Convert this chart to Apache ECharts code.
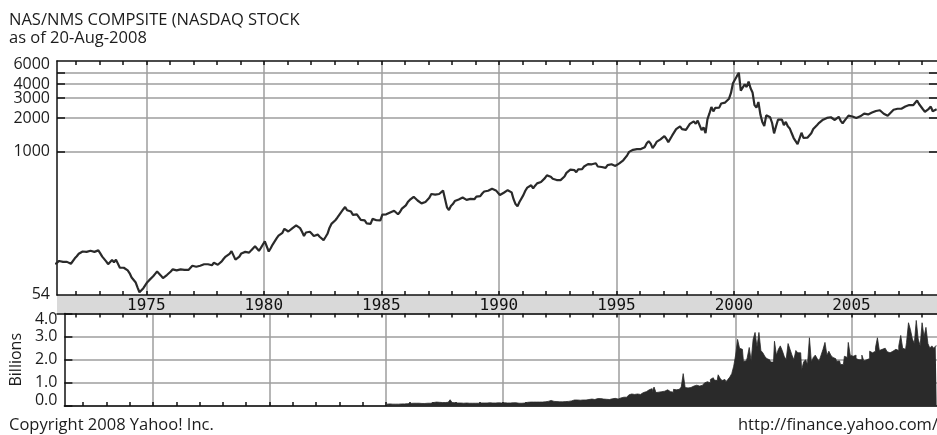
<!DOCTYPE html>
<html>
<head>
<meta charset="utf-8">
<script src="https://cdn.jsdelivr.net/npm/echarts@6/dist/echarts.min.js"></script>
<style>
  html, body { margin: 0; padding: 0; background: #fff; }
  #chart { width: 937px; height: 435px; }
</style>
</head>
<body>
<div id="chart"></div>
<script>
// NASDAQ Composite monthly closes, first value is Feb 1971
const closeStartYear = 1971;
const closeStartMonth = 2;
const closeValues = [
  101, 105, 108, 105, 106, 103, 106, 106, 102, 100, 114,            // 1971
  119, 125, 128, 131, 131, 130, 128, 133, 130, 130, 135, 134,       // 1972
  126, 118, 116, 107, 101, 100, 110, 105, 111, 110, 94, 92,         // 1973
  94, 93, 89, 84, 77, 76, 70, 63, 57, 56, 62, 60,                   // 1974
  70, 73, 76, 79, 83, 87, 84, 80, 76, 79, 81, 78,                   // 1975
  87, 91, 91, 89, 88, 91, 91, 90, 92, 90, 91, 98,                   // 1976
  97, 96, 96, 98, 97, 101, 101, 101, 101, 99, 104, 105,             // 1977
  100, 101, 107, 113, 118, 118, 125, 132, 136, 111, 114, 118,       // 1978
  126, 121, 130, 131, 128, 134, 136, 146, 146, 133, 141, 151,       // 1979
  161, 158, 131, 140, 151, 157, 171, 181, 188, 192, 208, 202,       // 1980
  197, 198, 210, 216, 223, 215, 211, 196, 180, 193, 201, 196,       // 1981
  188, 180, 175, 185, 177, 171, 165, 176, 188, 212, 230, 232,       // 1982
  248, 261, 270, 293, 309, 325, 304, 292, 296, 277, 286, 279,       // 1983
  268, 250, 251, 247, 233, 239, 230, 255, 249, 248, 242, 247,       // 1984
  278, 285, 280, 280, 291, 296, 301, 298, 280, 293, 314, 325,       // 1985
  336, 359, 375, 383, 400, 405, 371, 382, 350, 361, 360, 349,       // 1986
  392, 424, 430, 418, 417, 424, 434, 454, 444, 323, 305, 331,       // 1987
  345, 367, 374, 379, 370, 394, 387, 376, 388, 383, 372, 381,       // 1988
  401, 400, 406, 428, 446, 435, 453, 469, 472, 456, 456, 455,       // 1989
  415, 425, 435, 420, 458, 462, 438, 381, 345, 330, 360, 374,       // 1990
  414, 453, 482, 485, 506, 475, 502, 526, 527, 542, 523, 586,       // 1991
  620, 633, 603, 578, 585, 563, 581, 563, 583, 605, 652, 677,       // 1992
  696, 671, 690, 661, 700, 704, 705, 743, 763, 779, 754, 777,       // 1993
  800, 793, 743, 733, 735, 706, 722, 765, 764, 777, 750, 752,       // 1994
  756, 793, 817, 843, 865, 933, 1001, 1020, 1044, 1036, 1059, 1052, // 1995
  1060, 1100, 1101, 1191, 1243, 1185, 1081, 1141, 1227, 1222, 1293, 1291, // 1996
  1380, 1309, 1222, 1261, 1400, 1443, 1594, 1588, 1686, 1594, 1601, 1570, // 1997
  1619, 1771, 1835, 1868, 1779, 1895, 1872, 1560, 1650, 1470, 1950, 2193, // 1998
  2505, 2288, 2461, 2543, 2471, 2686, 2638, 2739, 2746, 2966, 3336, 4069, // 1999
  3940, 4696, 5040, 3500, 3400, 3966, 3767, 4206, 3673, 3370, 2598, 2471, // 2000
  2772, 2152, 1840, 1700, 2110, 2160, 2027, 1805, 1460, 1690, 1930, 1987, // 2001
  1934, 1731, 1845, 1688, 1616, 1463, 1328, 1315, 1172, 1140, 1479, 1335, // 2002
  1321, 1337, 1341, 1464, 1596, 1623, 1735, 1810, 1787, 1932, 1960, 2003, // 2003
  2066, 2030, 1994, 1920, 1987, 2048, 1887, 1790, 1897, 1975, 2097, 2175, // 2004
  2062, 2052, 1999, 1922, 2068, 2057, 2185, 2152, 2151, 2120, 2233, 2205, // 2005
  2306, 2281, 2340, 2323, 2179, 2172, 2091, 2184, 2258, 2367, 2432, 2415, // 2006
  2464, 2416, 2422, 2525, 2605, 2603, 2546, 2596, 2702, 2859, 2661, 2652, // 2007
  2390, 2271, 2279, 2413, 2523, 2293, 2326, 2390                          // 2008
];

// Average daily volume per month in billions of shares, first value is Jan 1985
const volumeStartYear = 1985;
const volumeStartMonth = 1;
const volumeBillions = [
  0.08, 0.09, 0.08, 0.08, 0.08, 0.08, 0.08, 0.09, 0.08, 0.09, 0.10, 0.10, // 1985
  0.11, 0.12, 0.13, 0.12, 0.12, 0.12, 0.11, 0.11, 0.12, 0.12, 0.12, 0.13, // 1986
  0.15, 0.17, 0.17, 0.16, 0.15, 0.14, 0.15, 0.16, 0.15, 0.27, 0.15, 0.14, // 1987
  0.13, 0.13, 0.13, 0.12, 0.12, 0.13, 0.12, 0.11, 0.12, 0.12, 0.12, 0.12, // 1988
  0.13, 0.14, 0.13, 0.13, 0.14, 0.14, 0.13, 0.14, 0.13, 0.14, 0.13, 0.13, // 1989
  0.14, 0.13, 0.13, 0.13, 0.13, 0.14, 0.14, 0.13, 0.12, 0.12, 0.12, 0.13, // 1990
  0.16, 0.18, 0.17, 0.17, 0.16, 0.17, 0.17, 0.16, 0.17, 0.18, 0.19, 0.20, // 1991
  0.24, 0.24, 0.20, 0.19, 0.18, 0.18, 0.18, 0.17, 0.19, 0.20, 0.22, 0.22, // 1992
  0.26, 0.27, 0.26, 0.25, 0.26, 0.26, 0.26, 0.26, 0.28, 0.30, 0.28, 0.28, // 1993
  0.32, 0.33, 0.32, 0.30, 0.29, 0.29, 0.28, 0.29, 0.31, 0.33, 0.32, 0.30, // 1994
  0.35, 0.37, 0.38, 0.38, 0.42, 0.48, 0.52, 0.50, 0.54, 0.52, 0.50, 0.50, // 1995
  0.58, 0.62, 0.56, 0.70, 0.75, 0.62, 0.82, 0.58, 0.60, 0.62, 0.62, 0.64, // 1996
  0.70, 0.68, 0.62, 0.60, 0.72, 0.70, 0.72, 0.74, 0.82, 1.40, 0.80, 0.78, // 1997
  0.80, 0.84, 0.86, 0.90, 0.84, 0.86, 0.90, 0.92, 1.00, 1.05, 1.00, 1.15, // 1998
  1.22, 1.12, 1.10, 1.35, 1.20, 1.10, 1.15, 1.05, 1.15, 1.25, 1.40, 1.72, // 1999
  2.20, 2.88, 2.50, 2.45, 1.93, 1.95, 2.10, 2.53, 1.95, 2.88, 3.18, 2.55, // 2000
  3.18, 2.40, 2.30, 2.15, 2.05, 2.00, 1.90, 1.90, 2.80, 2.20, 2.45, 2.60, // 2001
  2.40, 2.15, 2.00, 2.70, 2.45, 2.20, 2.00, 2.40, 2.30, 2.30, 1.57, 1.90, // 2002
  2.00, 1.80, 2.95, 1.90, 2.10, 2.20, 2.05, 1.95, 2.20, 2.45, 2.75, 2.20, // 2003
  2.37, 2.20, 2.10, 2.05, 1.93, 1.95, 1.79, 1.80, 2.15, 2.10, 2.75, 2.20, // 2004
  2.15, 2.20, 2.05, 2.00, 2.00, 2.20, 1.95, 2.00, 2.05, 2.37, 2.30, 2.37, // 2005
  2.52, 2.95, 2.40, 2.45, 2.50, 2.45, 2.35, 2.30, 2.37, 2.40, 2.45, 2.40, // 2006
  2.60, 3.05, 2.50, 2.45, 2.75, 3.60, 3.30, 2.90, 2.70, 3.70, 2.90, 2.60, // 2007
  3.60, 3.00, 3.40, 2.70, 2.50, 2.60, 2.50, 2.60                          // 2008
];

// Axis marks
const yearTicks = [1972, 1973, 1974, 1975, 1976, 1977, 1978, 1979, 1980, 1981,
  1982, 1983, 1984, 1985, 1986, 1987, 1988, 1989, 1990, 1991, 1992, 1993, 1994,
  1995, 1996, 1997, 1998, 1999, 2000, 2001, 2002, 2003, 2004, 2005, 2006, 2007, 2008];
const yearLabels = [1975, 1980, 1985, 1990, 1995, 2000, 2005];
const priceGridValues = [1000, 2000, 3000, 4000, 5000];
const priceLabels = [54, 1000, 2000, 3000, 4000, 6000];
const volumeLabels = ['0.0', '1.0', '2.0', '3.0', '4.0'];

const xMin = 1971.2;
const xMax = 2008.64;

// month index -> decimal year at mid-month
function monthSeries(startYear, startMonth, values) {
  return values.map((v, i) => [startYear + (startMonth - 1 + i + 0.5) / 12, v]);
}

const sansFont = 'Open Sans';
const inkColor = '#1c1c1c';
const axisLineStyle = { color: '#111', width: 1.5 };
const gridLineStyle = { color: '#9e9e9e', width: 1.5 };

const chart = echarts.init(document.getElementById('chart'), null, { renderer: 'canvas' });

const textStyle = { fontFamily: sansFont, fontSize: 16.5, fontWeight: 'normal', color: inkColor };

chart.setOption({
  animation: false,
  backgroundColor: '#fff',
  title: [
    {
      text: 'NAS/NMS COMPSITE (NASDAQ STOCK\nas of 20-Aug-2008',
      left: 9, top: 11, padding: 0,
      textStyle: Object.assign({ lineHeight: 18.5 }, textStyle)
    },
    { text: 'Copyright 2008 Yahoo! Inc.', left: 9, top: 417, padding: 0, textStyle: textStyle },
    { text: 'http://finance.yahoo.com/', left: 738, top: 417, padding: 0, textStyle: textStyle }
  ],
  grid: [
    { left: 57, right: 0, top: 61, height: 234 },
    { left: 57, right: 0, top: 295, height: 18.5, show: true, backgroundColor: '#d9d9d9', borderWidth: 0 },
    { left: 57, right: 0, top: 313.5, height: 92.5 }
  ],
  xAxis: [
    // price panel: top border with yearly ticks
    {
      gridIndex: 0, type: 'value', position: 'top', min: xMin, max: xMax,
      axisLine: { show: true, onZero: false, lineStyle: axisLineStyle },
      axisTick: { show: true, inside: true, length: 4, customValues: yearTicks, lineStyle: axisLineStyle },
      axisLabel: { show: false }, splitLine: { show: false }
    },
    // price panel: five-year grid lines
    {
      gridIndex: 0, type: 'value', position: 'bottom', min: xMin, max: xMax,
      axisLine: { show: false, onZero: false },
      axisTick: { show: false, customValues: yearLabels },
      axisLabel: { show: false },
      splitLine: { show: true, lineStyle: gridLineStyle }
    },
    // year band: upper edge, ticks and year labels
    {
      gridIndex: 1, type: 'value', position: 'top', min: xMin, max: xMax,
      axisLine: { show: true, onZero: false, lineStyle: axisLineStyle },
      axisTick: { show: true, inside: false, length: 4, customValues: yearTicks, lineStyle: axisLineStyle },
      axisLabel: {
        show: true, inside: true, margin: 3, customValues: yearLabels,
        formatter: v => String(v),
        fontFamily: 'DejaVu Sans Mono', fontSize: 16, color: '#111'
      },
      splitLine: { show: false }
    },
    // year band: lower edge
    {
      gridIndex: 1, type: 'value', position: 'bottom', min: xMin, max: xMax,
      axisLine: { show: true, onZero: false, lineStyle: axisLineStyle },
      axisTick: { show: true, inside: false, length: 4, customValues: yearTicks, lineStyle: axisLineStyle },
      axisLabel: { show: false }, splitLine: { show: false }
    },
    // volume panel: bottom axis
    {
      gridIndex: 2, type: 'value', position: 'bottom', min: xMin, max: xMax,
      axisLine: { show: true, onZero: false, lineStyle: axisLineStyle },
      axisTick: { show: true, inside: true, length: 4, customValues: yearTicks, lineStyle: axisLineStyle },
      axisLabel: { show: false }, splitLine: { show: false }
    },
    // volume panel: five-year grid lines
    {
      gridIndex: 2, type: 'value', position: 'top', min: xMin, max: xMax,
      axisLine: { show: false, onZero: false },
      axisTick: { show: false, customValues: yearLabels },
      axisLabel: { show: false },
      splitLine: { show: true, lineStyle: gridLineStyle }
    }
  ],
  yAxis: [
    {
      gridIndex: 0, type: 'log', logBase: 10, min: 53.9, max: 6400, position: 'left',
      axisLine: { show: true, onZero: false, lineStyle: axisLineStyle },
      axisTick: { show: true, inside: true, length: 8, customValues: priceGridValues, lineStyle: axisLineStyle },
      axisLabel: {
        show: true, customValues: priceLabels, formatter: v => String(Math.round(v)),
        margin: 7, fontFamily: sansFont, fontSize: 16, color: inkColor
      },
      splitLine: { show: true, lineStyle: gridLineStyle }
    },
    {
      gridIndex: 0, type: 'log', logBase: 10, min: 53.9, max: 6400, position: 'right',
      axisLine: { show: false, onZero: false },
      axisTick: { show: true, inside: true, length: 8, customValues: priceGridValues, lineStyle: axisLineStyle },
      axisLabel: { show: false }, splitLine: { show: false }
    },
    { gridIndex: 1, type: 'value', min: 0, max: 1, show: false },
    {
      gridIndex: 2, type: 'value', min: 0, max: 4, interval: 1, position: 'left',
      name: 'Billions', nameLocation: 'middle', nameRotate: 90, nameGap: 30,
      nameTextStyle: { fontFamily: sansFont, fontSize: 16, color: inkColor },
      axisLine: { show: true, onZero: false, lineStyle: axisLineStyle },
      axisTick: { show: true, inside: true, length: 8, lineStyle: axisLineStyle },
      axisLabel: {
        show: true, interval: 0, margin: 7, formatter: v => volumeLabels[Math.round(v)],
        showMinLabel: true, showMaxLabel: true, hideOverlap: false,
        verticalAlignMinLabel: 'bottom', verticalAlignMaxLabel: 'top',
        fontFamily: sansFont, fontSize: 16, lineHeight: 12, color: inkColor
      },
      splitLine: { show: true, lineStyle: gridLineStyle }
    }
  ],
  series: [
    {
      name: 'Close', type: 'line', xAxisIndex: 0, yAxisIndex: 0,
      data: monthSeries(closeStartYear, closeStartMonth, closeValues),
      showSymbol: false, clip: true,
      lineStyle: { color: '#2a2a2a', width: 2.2 }
    },
    {
      name: 'Volume', type: 'line', xAxisIndex: 4, yAxisIndex: 3, step: 'middle',
      data: monthSeries(volumeStartYear, volumeStartMonth, volumeBillions),
      showSymbol: false, clip: true,
      lineStyle: { color: '#2a2a2a', width: 0.8 },
      areaStyle: { color: '#2a2a2a', opacity: 1 }
    }
  ]
});
</script>
</body>
</html>
